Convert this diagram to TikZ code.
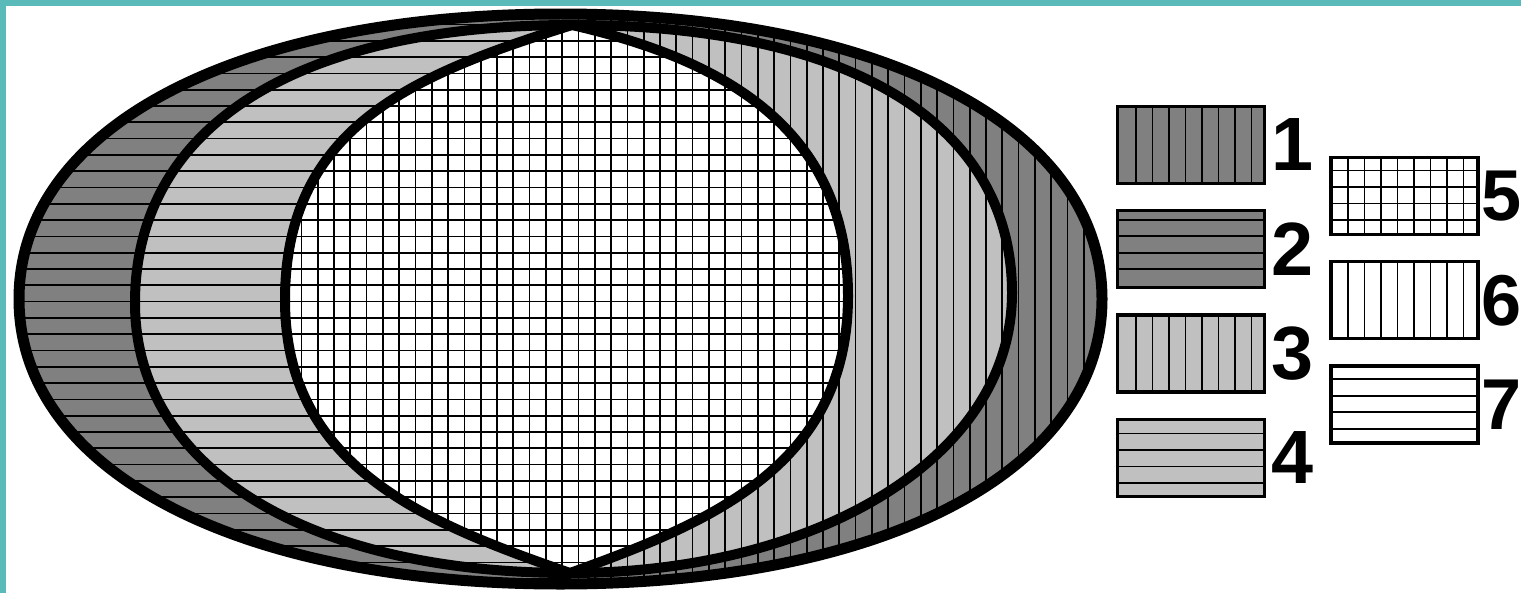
\documentclass[tikz,border=0pt]{standalone}
\usepackage{fontspec}
\setmainfont{Liberation Sans}
\usetikzlibrary{positioning}
\definecolor{darkfill}{RGB}{128,128,128}
\definecolor{lightfill}{RGB}{192,192,192}
\definecolor{frameteal}{RGB}{90,186,186}
% outer set, a rounded-box ellipse
\newcommand{\outerset}{(1102,294) .. controls (1102,465) and (885.5,579) .. (560.5,579) .. controls (235.5,579) and (19,465) .. (19,294) .. controls (19,123) and (235.5,9) .. (560.5,9) .. controls (885.5,9) and (1102,123) .. (1102,294) -- cycle}
% the four sides of the two inner sets, all from (top) to (bot)
\newcommand{\sideLleft}{(top) .. controls (300,568) and (135,469) .. (135,290) .. controls (135,124) and (309,20) .. (bot)}
\newcommand{\sideLright}{(bot) .. controls (709,70) and (848,126.5) .. (848,297) .. controls (848,470) and (715,535) .. (top)}
\newcommand{\sideRleft}{(top) .. controls (420,520) and (285,470) .. (285,293) .. controls (285,125) and (426.5,70) .. (bot)}
\newcommand{\sideRright}{(bot) .. controls (813,20) and (1012,133) .. (1012,300) .. controls (1012,464) and (860,568) .. (top)}
\newcommand{\hlines}{\foreach \k in {-21,...,16} \draw[hatch] (0,{340.3+16.3*\k}) -- (1521,{340.3+16.3*\k});}
\newcommand{\vlines}{\foreach \k in {-32,...,37} \draw[hatch] ({513.3+16.3*\k},0) -- ({513.3+16.3*\k},593);}
\begin{document}
\begin{tikzpicture}[x=0.02cm, y=0.02cm,
    hatch/.style={line width=1pt, black},
    rim/.style={line width=0.2cm, line join=round},
    keybox/.style={draw, line width=1.9pt, minimum width=2.94cm, minimum height=1.54cm, inner sep=0pt},
    vkey/.style={path picture={\foreach \k in {0,...,7} \draw[hatch] ([xshift=#1+\k*0.33cm]path picture bounding box.south west) -- ([xshift=#1+\k*0.33cm]path picture bounding box.north west);}},
    hkey/.style={path picture={\foreach \k in {0,...,3} \draw[hatch] ([yshift=-#1-\k*0.33cm]path picture bounding box.north west) -- ([yshift=-#1-\k*0.33cm]path picture bounding box.north east);}},
    gridkey/.style={path picture={
        \foreach \k in {0,...,7} \draw[hatch] ([xshift=0.34cm+\k*0.33cm]path picture bounding box.south west) -- ([xshift=0.34cm+\k*0.33cm]path picture bounding box.north west);
        \foreach \k in {0,...,3} \draw[hatch] ([yshift=-0.26cm-\k*0.33cm]path picture bounding box.north west) -- ([yshift=-0.26cm-\k*0.33cm]path picture bounding box.north east);}},
    keylabel/.style={font=\bfseries\fontsize{43}{43}\selectfont, inner sep=0pt},
    keylabelr/.style={font=\bfseries\fontsize{41}{41}\selectfont, inner sep=0pt}]
    \useasboundingbox (0,0) rectangle (1521,593);
    \fill[white] (0,0) rectangle (1521,593);
    \fill[frameteal] (0,587) rectangle (1521,593);
    \fill[frameteal] (0,0) rectangle (6,593);
    \coordinate (top) at (572,568);
    \coordinate (bot) at (570,20);
    % outer set
    \begin{scope}
        \clip \outerset;
        \fill[darkfill] (0,0) rectangle (1521,593);
        \foreach \k in {-21,...,16} \draw[hatch] (0,{340.3+16.3*\k}) -- (571,{340.3+16.3*\k});
        \foreach \k in {4,...,37} \draw[hatch] ({513.3+16.3*\k},0) -- ({513.3+16.3*\k},593);
    \end{scope}
    % left set
    \begin{scope}
        \clip \sideLleft -- \sideLright -- cycle;
        \fill[lightfill] (0,0) rectangle (1521,593);
        \hlines
    \end{scope}
    % right set
    \begin{scope}
        \clip \sideRleft -- \sideRright -- cycle;
        \fill[lightfill] (0,0) rectangle (1521,593);
        \vlines
    \end{scope}
    % common part
    \begin{scope}
        \clip \sideRleft -- \sideLright -- cycle;
        \fill[white] (0,0) rectangle (1521,593);
        \hlines
        \vlines
    \end{scope}
    \draw[rim, line width=0.22cm] \outerset;
    \draw[rim] \sideLleft;
    \draw[rim] \sideLright;
    \draw[rim] \sideRleft;
    \draw[rim] \sideRright;
    % legend
    \node[keybox, fill=darkfill, vkey=0.37cm] (key1) at (1191,448) {};
    \node[keybox, fill=darkfill, hkey=0.18cm, below=0.48cm of key1] (key2) {};
    \node[keybox, fill=lightfill, vkey=0.37cm, below=0.48cm of key2] (key3) {};
    \node[keybox, fill=lightfill, hkey=0.28cm, below=0.48cm of key3] (key4) {};
    \node[keybox, fill=white, gridkey] (key5) at (1404.5,397) {};
    \node[keybox, fill=white, vkey=0.34cm, below=0.48cm of key5] (key6) {};
    \node[keybox, fill=white, hkey=0.26cm, below=0.48cm of key6] (key7) {};
    \foreach \n in {1,...,4}
        \node[keylabel, right=0.09cm of key\n] (num\n) {\n};
    \foreach \n in {5,6,7}
        \node[keylabelr, right=0.02cm of key\n] (num\n) {\n};
\end{tikzpicture}
\end{document}
